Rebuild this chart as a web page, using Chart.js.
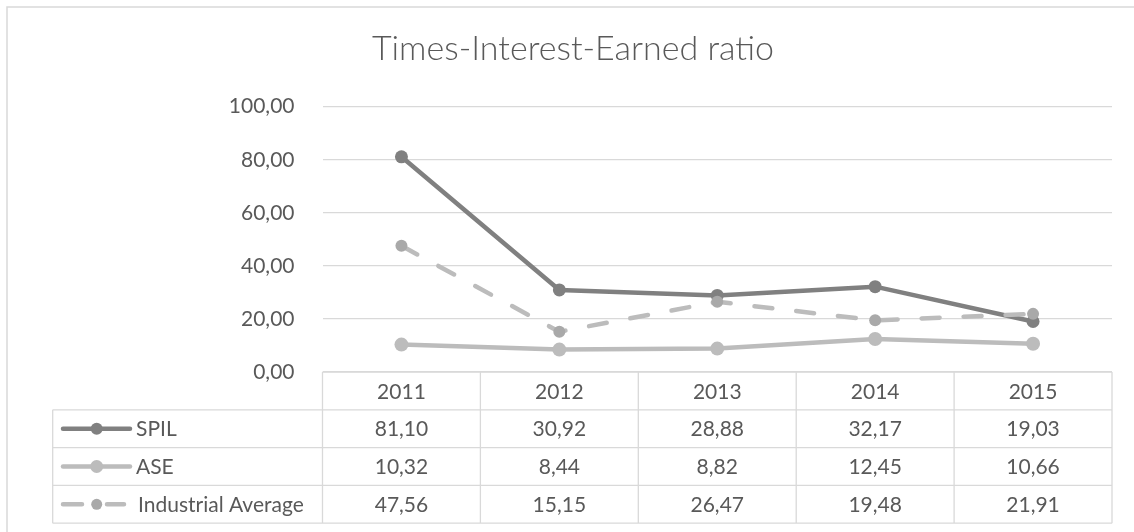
<!DOCTYPE html>
<html>
<head>
<meta charset="utf-8">
<script src="https://cdn.jsdelivr.net/npm/chart.js@4/dist/chart.umd.min.js"></script>
<style>
  html, body { margin: 0; padding: 0; background: #ffffff; }
  #wrap { width: 1134px; height: 532px; position: relative; }
</style>
</head>
<body>
<div id="wrap"><canvas id="c" width="1134" height="532"></canvas></div>
<script>
const categories = ['2011', '2012', '2013', '2014', '2015'];
const seriesNames = ['SPIL', 'ASE', 'Industrial Average'];
const spil = [81.10, 30.92, 28.88, 32.17, 19.03];
const ase = [10.32, 8.44, 8.82, 12.45, 10.66];
const industrialAverage = [47.56, 15.15, 26.47, 19.48, 21.91];
const yTicks = [0, 20, 40, 60, 80, 100];
const titleText = 'Times-Interest-Earned ratio';

const FONT = 'Lato, "Open Sans", sans-serif';
const TXT = '#595959';
const GRID = '#d9d9d9';
const fmt = v => v.toFixed(2).replace('.', ',');

const styles = [
  { line: '#808080', point: '#808080', dash: [], radius: 6.5 },
  { line: '#bcbcbc', point: '#bcbcbc', dash: [], radius: 7 },
  { line: '#bcbcbc', point: '#a9a9a9', dash: [18, 24], radius: 6 }
];
const seriesData = [spil, ase, industrialAverage];

const framePlugin = {
  id: 'frame',
  beforeDraw(chart) {
    const ctx = chart.ctx;
    ctx.save();
    ctx.fillStyle = '#ffffff';
    ctx.fillRect(0, 0, chart.width, chart.height);
    ctx.strokeStyle = '#d9d9d9';
    ctx.lineWidth = 1.5;
    ctx.strokeRect(7, 7, chart.width + 20, chart.height + 20);
    ctx.restore();
  }
};

const tablePlugin = {
  id: 'dataTable',
  afterDraw(chart) {
    const ctx = chart.ctx;
    const xs = chart.scales.x;
    const area = chart.chartArea;
    const rowH = 37.8;
    const top = area.bottom;
    const tableLeft = 52.7;
    const n = categories.length;
    const bounds = [area.left];
    for (let i = 0; i < n - 1; i++) {
      bounds.push((xs.getPixelForValue(i) + xs.getPixelForValue(i + 1)) / 2);
    }
    bounds.push(area.right);
    const bottom = top + rowH * (seriesNames.length + 1);

    ctx.save();
    ctx.strokeStyle = GRID;
    ctx.lineWidth = 1.3;
    ctx.beginPath();
    ctx.moveTo(area.left, top); ctx.lineTo(area.right, top);
    for (let r = 1; r <= seriesNames.length + 1; r++) {
      const y = top + rowH * r;
      ctx.moveTo(tableLeft, y); ctx.lineTo(area.right, y);
    }
    bounds.forEach(x => { ctx.moveTo(x, top); ctx.lineTo(x, bottom); });
    ctx.moveTo(tableLeft, top + rowH); ctx.lineTo(tableLeft, bottom);
    ctx.stroke();

    ctx.fillStyle = TXT;
    ctx.font = '21px ' + FONT;
    ctx.textAlign = 'center';
    ctx.textBaseline = 'middle';
    categories.forEach((c, i) => {
      ctx.fillText(c, xs.getPixelForValue(i), top + rowH / 2 + 1);
    });
    seriesNames.forEach((name, r) => {
      const yc = top + rowH * (r + 1.5) + 1;
      ctx.textAlign = 'center';
      ctx.fillStyle = TXT;
      seriesData[r].forEach((v, i) => {
        ctx.fillText(fmt(v), xs.getPixelForValue(i), yc);
      });
      const st = styles[r];
      ctx.save();
      ctx.strokeStyle = st.line;
      ctx.lineWidth = 4.5;
      ctx.lineCap = 'round';
      ctx.beginPath();
      if (st.dash.length) {
        ctx.moveTo(63, yc - 1); ctx.lineTo(82, yc - 1);
        ctx.moveTo(107, yc - 1); ctx.lineTo(124, yc - 1);
      } else {
        ctx.moveTo(63, yc - 1); ctx.lineTo(130, yc - 1);
      }
      ctx.stroke();
      ctx.fillStyle = st.point;
      ctx.beginPath();
      ctx.arc(96.7, yc - 1, st.radius - 0.5, 0, Math.PI * 2);
      ctx.fill();
      ctx.restore();
      ctx.textAlign = 'left';
      ctx.fillStyle = TXT;
      ctx.fillText(name, st.dash.length ? 138 : 136, yc);
    });
    ctx.restore();
  }
};

new Chart(document.getElementById('c'), {
  type: 'line',
  data: {
    labels: categories,
    datasets: seriesNames.map((name, i) => ({
      label: name,
      data: seriesData[i],
      borderColor: styles[i].line,
      backgroundColor: styles[i].point,
      pointBackgroundColor: styles[i].point,
      pointBorderColor: styles[i].point,
      pointRadius: styles[i].radius,
      pointBorderWidth: 0,
      borderWidth: 4.5,
      borderDash: styles[i].dash,
      borderCapStyle: 'round',
      borderJoinStyle: 'round',
      tension: 0,
      fill: false,
      order: 3 - i
    }))
  },
  options: {
    responsive: false,
    animation: false,
    devicePixelRatio: 1,
    layout: { padding: { left: 34, right: 22, top: 29, bottom: 160 } },
    plugins: {
      legend: { display: false },
      tooltip: { enabled: false },
      title: {
        display: true,
        text: titleText,
        color: TXT,
        font: { family: FONT, size: 34, weight: 300 },
        padding: { top: 0, bottom: 36.9 }
      }
    },
    scales: {
      x: {
        type: 'category',
        offset: true,
        display: false,
        grid: { display: false }
      },
      y: {
        min: 0,
        max: 100,
        afterFit: s => { s.width = 288.5; },
        afterBuildTicks: s => { s.ticks = yTicks.map(v => ({ value: v })); },
        border: { display: false },
        grid: { color: GRID, lineWidth: 1.3, drawTicks: false },
        ticks: {
          color: TXT,
          padding: 28,
          font: { family: FONT, size: 21 },
          callback: v => fmt(v)
        }
      }
    }
  },
  plugins: [framePlugin, tablePlugin]
});
</script>
</body>
</html>
